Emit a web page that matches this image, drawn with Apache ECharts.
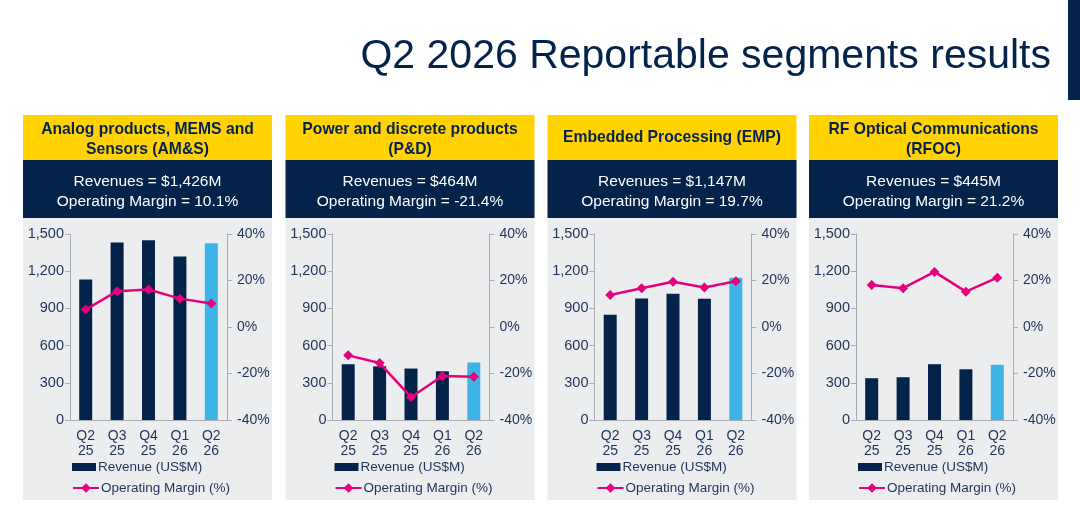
<!DOCTYPE html>
<html>
<head>
<meta charset="utf-8">
<script src="https://cdn.jsdelivr.net/npm/echarts@6/dist/echarts.min.js"></script>
<style>
  html, body { margin: 0; padding: 0; background: #fff; }
  #chart { width: 1080px; height: 524px; }
</style>
</head>
<body>
<div id="chart"></div>
<script>
// quarters on the x axis
const categories = ['Q2\n25', 'Q3\n25', 'Q4\n25', 'Q1\n26', 'Q2\n26'];

// segment headers
const segmentTitles = [
  'Analog products, MEMS and\nSensors (AM&S)',
  'Power and discrete products\n(P&D)',
  'Embedded Processing (EMP)',
  'RF Optical Communications\n(RFOC)'
];

// revenue US$M / operating margin % per segment
const revAMS = [1133, 1431, 1449, 1318, 1426];
const marginAMS = [7.5, 15.4, 16.1, 12.2, 10.1];
const revPD = [450, 433, 415, 393, 464];
const marginPD = [-12.2, -15.5, -30.2, -21.1, -21.4];
const revEMP = [848, 980, 1018, 977, 1147];
const marginEMP = [13.8, 16.7, 19.5, 17.0, 19.7];
const revRFOC = [337, 345, 450, 409, 445];
const marginRFOC = [18.1, 16.7, 23.7, 15.2, 21.2];

const revenues = [revAMS, revPD, revEMP, revRFOC];
const margins = [marginAMS, marginPD, marginEMP, marginRFOC];

const NAVY = '#03234B';
const YELLOW = '#FFD200';
const LIGHT_BLUE = '#3CB4E6';
const PINK = '#E6007E';
const GREY_BG = '#ECEDEF';
const AXIS = '#A9ADB3';
const LABEL = '#1F3358';
const FONT = '"Liberation Sans", Arial, sans-serif';

const panelX = [23, 285.5, 547.5, 809];
const panelW = 249;

let option = {
  animation: false,
  textStyle: { fontFamily: FONT },
  grid: [], xAxis: [], yAxis: [], series: [], legend: [],
  graphic: []
};

// page title + right edge bar
option.graphic.push({
  type: 'text',
  style: { x: 1051, y: 57, text: 'Q2 2026 Reportable segments results', font: '41px ' + FONT, fill: NAVY, align: 'right', verticalAlign: 'middle' }
});
option.graphic.push({ type: 'rect', shape: { x: 1068, y: 0, width: 12, height: 100 }, style: { fill: NAVY } });

panelX.forEach((x0, i) => {
  let rev = revenues[i];
  let mar = margins[i];

  // boxes
  option.graphic.push({ type: 'rect', shape: { x: x0, y: 115, width: panelW, height: 45 }, style: { fill: YELLOW } });
  option.graphic.push({ type: 'rect', shape: { x: x0, y: 160, width: panelW, height: 58 }, style: { fill: NAVY } });
  option.graphic.push({ type: 'rect', shape: { x: x0, y: 218, width: panelW, height: 282 }, style: { fill: GREY_BG }, z: -10 });

  let title = segmentTitles[i];
  option.graphic.push({
    type: 'text',
    style: { x: x0 + panelW / 2, y: title.indexOf('\n') > -1 ? 139.5 : 138, text: title, font: 'bold 15.7px ' + FONT, fill: NAVY, align: 'center', verticalAlign: 'middle', lineHeight: 20 }
  });
  let last = rev.length - 1;
  let summary = 'Revenues = $' + rev[last].toLocaleString('en-US') + 'M\nOperating Margin = ' + mar[last].toFixed(1) + '%';
  option.graphic.push({
    type: 'text',
    style: { x: x0 + panelW / 2, y: 192, text: summary, font: '15.5px ' + FONT, fill: '#fff', align: 'center', verticalAlign: 'middle', lineHeight: 20 }
  });

  option.grid.push({ left: x0 + 47, top: 234, width: 157, height: 186 });

  option.xAxis.push({
    type: 'category', gridIndex: i, data: categories,
    axisLine: { lineStyle: { color: AXIS } },
    axisTick: { lineStyle: { color: AXIS }, length: 5 },
    axisLabel: { color: LABEL, fontSize: 14, lineHeight: 15, margin: 9 }
  });
  option.yAxis.push({
    type: 'value', gridIndex: i, min: 0, max: 1500, interval: 300,
    axisLine: { show: true, lineStyle: { color: AXIS } },
    axisTick: { show: true, lineStyle: { color: AXIS }, length: 5 },
    splitLine: { show: false },
    axisLabel: { color: LABEL, fontSize: 14.5, margin: 6, formatter: v => v.toLocaleString('en-US') }
  });
  option.yAxis.push({
    type: 'value', gridIndex: i, position: 'right', min: -40, max: 40, interval: 20,
    axisLine: { show: true, lineStyle: { color: AXIS } },
    axisTick: { show: true, lineStyle: { color: AXIS }, length: 5 },
    splitLine: { show: false },
    axisLabel: { color: LABEL, fontSize: 14, margin: 10, formatter: '{value}%' }
  });

  option.series.push({
    name: 'Revenue (US$M)', type: 'bar', xAxisIndex: i, yAxisIndex: i * 2,
    barWidth: 13, itemStyle: { color: NAVY },
    data: rev.map((v, k) => k === last ? { value: v, itemStyle: { color: LIGHT_BLUE } } : v)
  });
  option.series.push({
    name: 'Operating Margin (%)', type: 'line', xAxisIndex: i, yAxisIndex: i * 2 + 1,
    symbol: 'diamond', symbolSize: 10,
    lineStyle: { color: PINK, width: 2.5 }, itemStyle: { color: PINK },
    data: mar
  });

  // two legends per panel so swatch sizes differ
  option.legend.push({
    left: x0 + 44, top: 455, itemWidth: 24, itemHeight: 8, selectedMode: false,
    data: [{ name: 'Revenue (US$M)', icon: 'rect' }],
    textStyle: { color: LABEL, fontSize: 13.5, padding: [0, 0, 0, -3] }
  });
  option.legend.push({
    left: x0 + 44, top: 476, itemWidth: 26, itemHeight: 12, selectedMode: false,
    data: ['Operating Margin (%)'],
    textStyle: { color: LABEL, fontSize: 13.5, padding: [0, 0, 0, -3] }
  });
});

let chart = echarts.init(document.getElementById('chart'));
chart.setOption(option);
</script>
</body>
</html>
